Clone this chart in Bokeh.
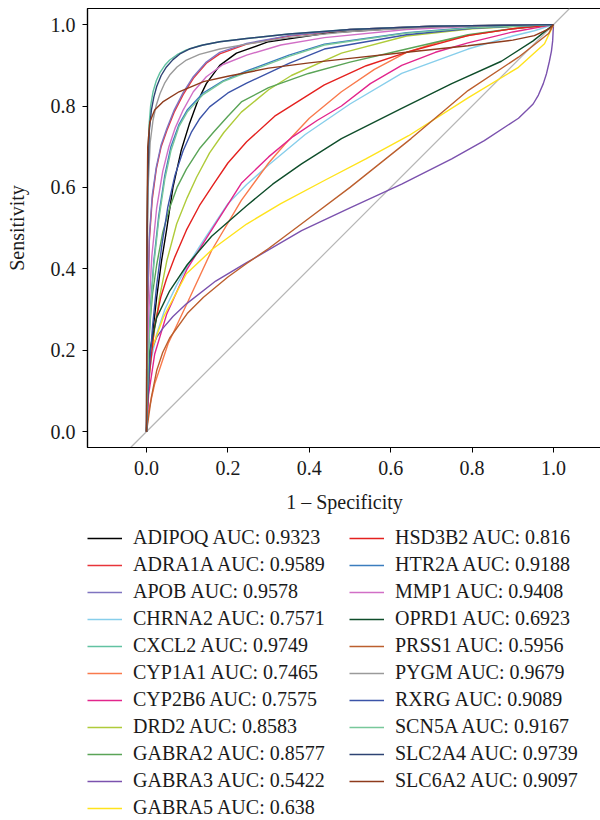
from bokeh.plotting import figure
from bokeh.layouts import column
from bokeh.models import Legend, LegendItem, Slope, Range1d, FixedTicker, PrintfTickFormatter
from bokeh.embed import file_html
from bokeh.resources import INLINE

genes = ["ADIPOQ", "ADRA1A", "APOB", "CHRNA2", "CXCL2", "CYP1A1", "CYP2B6", "DRD2",
         "GABRA2", "GABRA3", "GABRA5", "HSD3B2", "HTR2A", "MMP1", "OPRD1", "PRSS1",
         "PYGM", "RXRG", "SCN5A", "SLC2A4", "SLC6A2"]
aucs = [0.9323, 0.9589, 0.9578, 0.7571, 0.9749, 0.7465, 0.7575, 0.8583,
        0.8577, 0.5422, 0.638, 0.816, 0.9188, 0.9408, 0.6923, 0.5956,
        0.9679, 0.9089, 0.9167, 0.9739, 0.9097]
colors = ["#000000", "#E8343A", "#7F74C0", "#87CEEB", "#62C2A2", "#F97A4C", "#E2258C", "#AFCB3A",
          "#5AA457", "#7B52AE", "#FFE31C", "#E4211F", "#3B7DBE", "#D16FC6", "#0E4D2A", "#BC5F2E",
          "#9A9A9A", "#3B53A8", "#78C89A", "#2D4373", "#8E3B1C"]

ticks = [0.0, 0.2, 0.4, 0.6, 0.8, 1.0]

# ROC curve points (1 - specificity, sensitivity)
ADIPOQ_fpr = [0, 0.003, 0.008, 0.016, 0.025, 0.037, 0.049, 0.065, 0.085, 0.105, 0.125, 0.147, 0.18, 0.221, 0.3, 0.45, 0.639, 0.8, 1.0]
ADIPOQ_tpr = [0, 0.08, 0.167, 0.25, 0.33, 0.42, 0.494, 0.6, 0.69, 0.755, 0.81, 0.855, 0.9, 0.93, 0.958, 0.98, 0.992, 0.997, 1.0]
ADRA1A_fpr = [0, 0.001, 0.003, 0.007, 0.014, 0.024, 0.036, 0.05, 0.068, 0.09, 0.115, 0.147, 0.18, 0.246, 0.35, 0.5, 0.7, 1.0]
ADRA1A_tpr = [0, 0.15, 0.3, 0.47, 0.57, 0.645, 0.7, 0.74, 0.785, 0.828, 0.868, 0.905, 0.928, 0.952, 0.972, 0.988, 0.996, 1.0]
APOB_fpr = [0, 0.001, 0.003, 0.007, 0.014, 0.024, 0.036, 0.05, 0.068, 0.09, 0.115, 0.147, 0.18, 0.246, 0.35, 0.5, 0.7, 1.0]
APOB_tpr = [0, 0.17, 0.32, 0.48, 0.58, 0.65, 0.705, 0.745, 0.79, 0.833, 0.872, 0.908, 0.932, 0.954, 0.973, 0.988, 0.996, 1.0]
CHRNA2_fpr = [0, 0.004, 0.012, 0.025, 0.045, 0.074, 0.105, 0.14, 0.2, 0.246, 0.3, 0.39, 0.5, 0.627, 0.79, 0.9, 0.953, 1.0]
CHRNA2_tpr = [0, 0.11, 0.18, 0.24, 0.3, 0.36, 0.415, 0.47, 0.56, 0.607, 0.655, 0.73, 0.805, 0.88, 0.94, 0.972, 0.985, 1.0]
CXCL2_fpr = [0, 0.001, 0.003, 0.006, 0.01, 0.016, 0.024, 0.033, 0.045, 0.057, 0.075, 0.098, 0.13, 0.18, 0.246, 0.35, 0.5, 0.7, 1.0]
CXCL2_tpr = [0, 0.4, 0.64, 0.75, 0.8, 0.835, 0.862, 0.882, 0.9, 0.913, 0.926, 0.938, 0.948, 0.958, 0.966, 0.977, 0.988, 0.996, 1.0]
CYP1A1_fpr = [0, 0.005, 0.02, 0.053, 0.103, 0.16, 0.233, 0.3, 0.339, 0.4, 0.479, 0.56, 0.639, 0.72, 0.8, 0.9, 1.0]
CYP1A1_tpr = [0, 0.05, 0.117, 0.216, 0.322, 0.445, 0.568, 0.66, 0.705, 0.77, 0.835, 0.89, 0.932, 0.958, 0.975, 0.99, 1.0]
CYP2B6_fpr = [0, 0.005, 0.02, 0.05, 0.1, 0.15, 0.233, 0.3, 0.36, 0.42, 0.479, 0.55, 0.627, 0.71, 0.79, 0.9, 1.0]
CYP2B6_tpr = [0, 0.09, 0.19, 0.29, 0.4, 0.48, 0.61, 0.675, 0.725, 0.765, 0.8, 0.855, 0.9, 0.932, 0.955, 0.982, 1.0]
DRD2_fpr = [0, 0.003, 0.012, 0.032, 0.05, 0.074, 0.1, 0.123, 0.155, 0.19, 0.233, 0.3, 0.356, 0.479, 0.639, 0.8, 1.0]
DRD2_tpr = [0, 0.1, 0.2, 0.33, 0.42, 0.51, 0.575, 0.625, 0.685, 0.735, 0.785, 0.84, 0.875, 0.93, 0.972, 0.99, 1.0]
GABRA2_fpr = [0, 0.002, 0.007, 0.015, 0.025, 0.04, 0.057, 0.075, 0.098, 0.13, 0.164, 0.2, 0.233, 0.3, 0.398, 0.5, 0.639, 0.79, 0.9, 1.0]
GABRA2_tpr = [0, 0.15, 0.25, 0.34, 0.41, 0.49, 0.55, 0.6, 0.645, 0.695, 0.735, 0.775, 0.81, 0.845, 0.88, 0.908, 0.94, 0.975, 0.99, 1.0]
GABRA3_fpr = [0, 0.002, 0.006, 0.012, 0.025, 0.041, 0.065, 0.098, 0.17, 0.246, 0.381, 0.5, 0.627, 0.75, 0.83, 0.914, 0.935, 0.95, 0.963, 0.975, 0.983, 0.99, 0.995, 0.998, 1.0]
GABRA3_tpr = [0, 0.12, 0.165, 0.2, 0.232, 0.255, 0.283, 0.314, 0.37, 0.415, 0.494, 0.55, 0.608, 0.67, 0.715, 0.77, 0.79, 0.805, 0.827, 0.855, 0.88, 0.91, 0.935, 0.96, 1.0]
GABRA5_fpr = [0, 0.002, 0.012, 0.041, 0.098, 0.164, 0.246, 0.33, 0.437, 0.539, 0.644, 0.79, 0.914, 0.978, 1.0]
GABRA5_tpr = [0, 0.1, 0.2, 0.28, 0.388, 0.45, 0.51, 0.56, 0.617, 0.67, 0.727, 0.82, 0.895, 0.953, 1.0]
HSD3B2_fpr = [0, 0.003, 0.008, 0.02, 0.035, 0.049, 0.07, 0.098, 0.13, 0.164, 0.2, 0.246, 0.315, 0.437, 0.54, 0.639, 0.79, 0.9, 1.0]
HSD3B2_tpr = [0, 0.08, 0.15, 0.26, 0.33, 0.375, 0.43, 0.495, 0.555, 0.607, 0.66, 0.712, 0.775, 0.852, 0.899, 0.932, 0.973, 0.99, 1.0]
HTR2A_fpr = [0, 0.002, 0.005, 0.01, 0.018, 0.03, 0.045, 0.06, 0.08, 0.1, 0.139, 0.188, 0.246, 0.35, 0.437, 0.639, 0.8, 1.0]
HTR2A_tpr = [0, 0.1, 0.2, 0.31, 0.42, 0.53, 0.63, 0.7, 0.755, 0.79, 0.832, 0.862, 0.886, 0.925, 0.952, 0.98, 0.993, 1.0]
MMP1_fpr = [0, 0.002, 0.006, 0.013, 0.025, 0.04, 0.055, 0.07, 0.09, 0.115, 0.147, 0.188, 0.246, 0.33, 0.437, 0.639, 0.8, 1.0]
MMP1_tpr = [0, 0.15, 0.3, 0.43, 0.55, 0.64, 0.7, 0.745, 0.79, 0.835, 0.872, 0.902, 0.925, 0.95, 0.968, 0.988, 0.996, 1.0]
OPRD1_fpr = [0, 0.003, 0.008, 0.025, 0.057, 0.1, 0.16, 0.246, 0.31, 0.381, 0.479, 0.627, 0.75, 0.872, 0.95, 1.0]
OPRD1_tpr = [0, 0.12, 0.2, 0.28, 0.346, 0.41, 0.48, 0.555, 0.608, 0.658, 0.72, 0.794, 0.855, 0.91, 0.96, 1.0]
PRSS1_fpr = [0, 0.005, 0.012, 0.025, 0.04, 0.057, 0.1, 0.14, 0.2, 0.246, 0.3, 0.4, 0.5, 0.65, 0.79, 0.914, 0.988, 1.0]
PRSS1_tpr = [0, 0.035, 0.085, 0.15, 0.195, 0.23, 0.29, 0.33, 0.38, 0.413, 0.45, 0.525, 0.6, 0.72, 0.838, 0.92, 0.978, 1.0]
PYGM_fpr = [0, 0.001, 0.004, 0.009, 0.016, 0.024, 0.033, 0.045, 0.057, 0.075, 0.098, 0.13, 0.18, 0.246, 0.35, 0.5, 0.7, 1.0]
PYGM_tpr = [0, 0.35, 0.6, 0.71, 0.765, 0.802, 0.83, 0.857, 0.876, 0.896, 0.913, 0.927, 0.94, 0.952, 0.968, 0.983, 0.994, 1.0]
RXRG_fpr = [0, 0.003, 0.008, 0.015, 0.025, 0.038, 0.052, 0.07, 0.09, 0.11, 0.13, 0.155, 0.2, 0.246, 0.35, 0.437, 0.639, 0.8, 1.0]
RXRG_tpr = [0, 0.08, 0.17, 0.26, 0.36, 0.46, 0.55, 0.63, 0.69, 0.735, 0.768, 0.798, 0.832, 0.856, 0.905, 0.94, 0.975, 0.991, 1.0]
SCN5A_fpr = [0, 0.002, 0.005, 0.01, 0.018, 0.03, 0.045, 0.06, 0.08, 0.1, 0.139, 0.188, 0.246, 0.35, 0.437, 0.639, 0.8, 1.0]
SCN5A_tpr = [0, 0.09, 0.19, 0.3, 0.41, 0.52, 0.62, 0.69, 0.75, 0.785, 0.828, 0.86, 0.883, 0.922, 0.95, 0.979, 0.992, 1.0]
SLC2A4_fpr = [0, 0.001, 0.003, 0.007, 0.012, 0.018, 0.025, 0.036, 0.049, 0.065, 0.082, 0.105, 0.139, 0.18, 0.246, 0.35, 0.5, 0.7, 1.0]
SLC2A4_tpr = [0, 0.4, 0.62, 0.74, 0.79, 0.822, 0.848, 0.875, 0.896, 0.914, 0.928, 0.94, 0.95, 0.958, 0.966, 0.977, 0.988, 0.996, 1.0]
SLC6A2_fpr = [0, 0.001, 0.003, 0.008, 0.02, 0.04, 0.08, 0.14, 0.2, 0.3, 0.4, 0.5, 0.639, 0.79, 0.9, 0.953, 0.99, 1.0]
SLC6A2_tpr = [0, 0.5, 0.7, 0.76, 0.79, 0.81, 0.835, 0.86, 0.873, 0.893, 0.906, 0.917, 0.932, 0.948, 0.962, 0.973, 0.99, 1.0]

curves = {
    "ADIPOQ": (ADIPOQ_fpr, ADIPOQ_tpr), "ADRA1A": (ADRA1A_fpr, ADRA1A_tpr),
    "APOB": (APOB_fpr, APOB_tpr), "CHRNA2": (CHRNA2_fpr, CHRNA2_tpr),
    "CXCL2": (CXCL2_fpr, CXCL2_tpr), "CYP1A1": (CYP1A1_fpr, CYP1A1_tpr),
    "CYP2B6": (CYP2B6_fpr, CYP2B6_tpr), "DRD2": (DRD2_fpr, DRD2_tpr),
    "GABRA2": (GABRA2_fpr, GABRA2_tpr), "GABRA3": (GABRA3_fpr, GABRA3_tpr),
    "GABRA5": (GABRA5_fpr, GABRA5_tpr), "HSD3B2": (HSD3B2_fpr, HSD3B2_tpr),
    "HTR2A": (HTR2A_fpr, HTR2A_tpr), "MMP1": (MMP1_fpr, MMP1_tpr),
    "OPRD1": (OPRD1_fpr, OPRD1_tpr), "PRSS1": (PRSS1_fpr, PRSS1_tpr),
    "PYGM": (PYGM_fpr, PYGM_tpr), "RXRG": (RXRG_fpr, RXRG_tpr),
    "SCN5A": (SCN5A_fpr, SCN5A_tpr), "SLC2A4": (SLC2A4_fpr, SLC2A4_tpr),
    "SLC6A2": (SLC6A2_fpr, SLC6A2_tpr),
}

FONT = "Liberation Serif"

# ---- main ROC plot ----
p = figure(frame_width=514, frame_height=439,
           x_range=Range1d(-0.145, 1.118), y_range=Range1d(-0.039, 1.0396),
           output_backend="svg", toolbar_location=None,
           min_border_left=86, min_border_right=0, min_border_top=8, min_border_bottom=0)
p.xgrid.visible = False
p.ygrid.visible = False
p.outline_line_color = "black"
p.outline_line_width = 1.2
p.background_fill_color = "white"

diag = Slope(gradient=1, y_intercept=0, line_color="#B5B5B5", line_width=1.2, level="underlay")
p.add_layout(diag)

for g, c in zip(genes, colors):
    fx, fy = curves[g]
    p.line(fx, fy, line_color=c, line_width=1.4)

for ax in (p.xaxis[0], p.yaxis[0]):
    ax.ticker = FixedTicker(ticks=ticks)
    ax.formatter = PrintfTickFormatter(format="%.1f")
    ax.major_label_text_font = FONT
    ax.major_label_text_font_size = "20px"
    ax.major_label_text_color = "#1a1a1a"
    ax.axis_label_text_font = FONT
    ax.axis_label_text_font_size = "20px"
    ax.axis_label_text_font_style = "normal"
    ax.axis_label_text_color = "#1a1a1a"
    ax.minor_tick_line_color = None
    ax.major_tick_out = 5
    ax.major_tick_in = 0
    ax.major_tick_line_color = "black"
    ax.axis_line_color = "black"
    ax.axis_line_width = 1.2

p.xaxis.axis_label = "1 \u2013 Specificity"
p.yaxis.axis_label = "Sensitivity"
p.xaxis.major_label_standoff = 8
p.xaxis.axis_label_standoff = 13
p.yaxis.major_label_standoff = 7
p.yaxis.axis_label_standoff = 20

# ---- legend panel (same curves, drawn outside its visible range) ----
lg = figure(width=600, height=304, x_range=Range1d(10, 11), y_range=Range1d(10, 11),
            x_axis_location=None, y_axis_location=None,
            output_backend="svg", toolbar_location=None,
            min_border_left=87, min_border_right=0, min_border_top=11, min_border_bottom=0)
lg.xgrid.visible = False
lg.ygrid.visible = False
lg.outline_line_color = None

items = []
for g, a, c in zip(genes, aucs, colors):
    fx, fy = curves[g]
    r = lg.line(fx, fy, line_color=c, line_width=1.4)
    items.append(LegendItem(label=f"{g} AUC: {a}", renderers=[r]))

legend = Legend(items=items, location="top_left", orientation="vertical", ncols=2,
                label_text_font=FONT, label_text_font_size="20px", label_text_color="#1a1a1a",
                glyph_width=35, glyph_height=22, label_height=22, label_width=212,
                label_standoff=11, spacing=4, padding=0, margin=0,
                border_line_color=None, background_fill_alpha=0)
lg.add_layout(legend)

layout = column(p, lg, spacing=0)
open("out.html", "w").write(file_html(layout, INLINE))
